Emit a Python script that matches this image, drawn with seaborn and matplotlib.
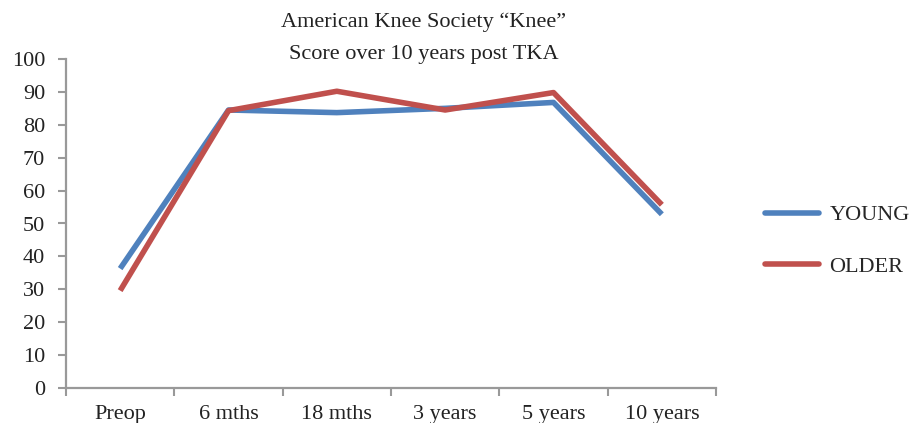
import matplotlib
matplotlib.use("Agg")
import matplotlib.pyplot as plt
import seaborn as sns
import pandas as pd
import numpy as np

categories = ["Preop", "6 mths", "18 mths", "3 years", "5 years", "10 years"]
young = [36.3, 84.5, 83.7, 85.0, 86.8, 52.8]
older = [29.6, 84.3, 90.2, 84.5, 89.8, 55.7]
series_names = ["YOUNG", "OLDER"]
colors = ["#4F81BD", "#C0504D"]

df = pd.DataFrame({
    "x": list(range(len(categories))) * 2,
    "value": young + older,
    "series": [series_names[0]] * len(categories) + [series_names[1]] * len(categories),
})

sns.set_style("white")
plt.rcParams['font.family'] = ['Liberation Serif', 'DejaVu Serif']

fig = plt.figure(figsize=(9.13, 4.23), dpi=100)
ax = fig.add_axes([66/913, 1-388/423, (716-66)/913, (388-59)/423])

sns.lineplot(data=df, x="x", y="value", hue="series", palette=colors,
             linewidth=4.0, ax=ax, legend=False, solid_capstyle="butt")

ax.set_xlim(-0.5, len(categories) - 0.5)
ax.set_ylim(0, 100)
ax.set_yticks(np.arange(0, 101, 10))
ax.set_xticks(range(len(categories)))
ax.set_xticklabels(categories)
ax.set_xticks(np.arange(-0.5, len(categories), 1), minor=True)
ax.tick_params(axis="x", which="major", bottom=True, length=0, pad=12, labelsize=16, colors="#222222")
ax.tick_params(axis="x", which="minor", bottom=True, length=6, width=1.5, color="#999999", direction="out")
ax.tick_params(axis="y", which="major", left=True, length=6, width=1.5, color="#999999", direction="out",
               pad=9, labelsize=16, labelcolor="#222222")
ax.set_xlabel("")
ax.set_ylabel("")
for s in ["top", "right"]:
    ax.spines[s].set_visible(False)
for s in ["left", "bottom"]:
    ax.spines[s].set_color("#999999")
    ax.spines[s].set_linewidth(1.6)

from matplotlib.lines import Line2D
handles = [Line2D([0], [0], color=c, lw=4.0) for c in colors]
fig.legend(handles, series_names, loc="center left", bbox_to_anchor=(765/913, 1-241/423),
           frameon=False, fontsize=16, handlelength=2.45, labelspacing=1.4, handletextpad=0.45,
           borderaxespad=0, borderpad=0)

fig.text(424/913, 1-22/423, "American Knee Society \u201cKnee\u201d", ha="center", va="center",
         fontsize=16, color="#222222")
fig.text(424/913, 1-55/423, "Score over 10 years post TKA", ha="center", va="center",
         fontsize=16, color="#222222")

fig.savefig("out.png", dpi=100)
